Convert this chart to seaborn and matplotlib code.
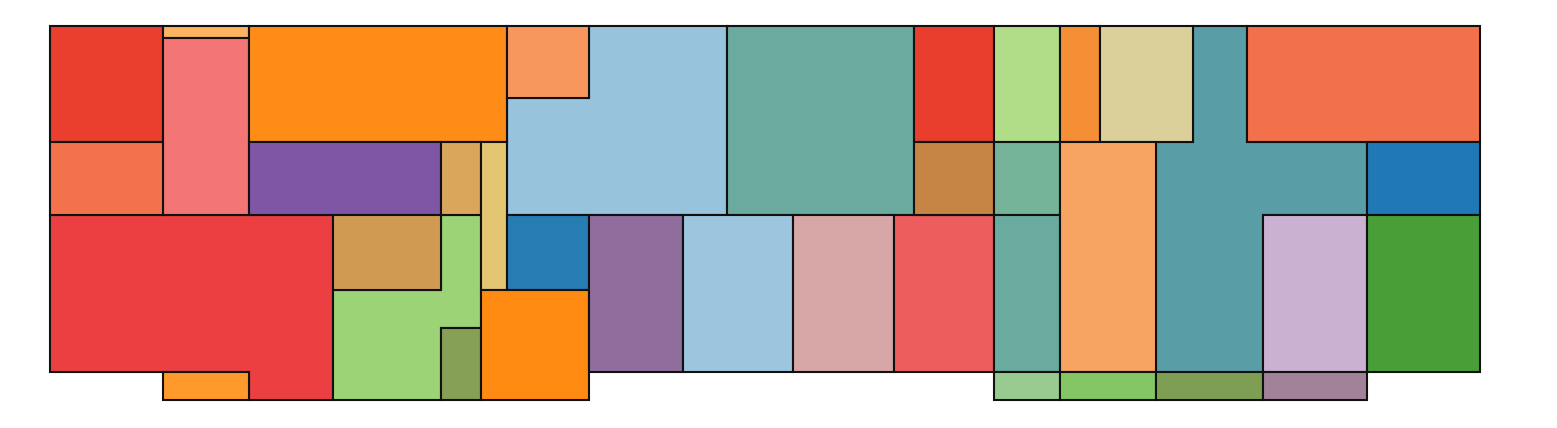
import matplotlib
matplotlib.use("Agg")
import matplotlib.pyplot as plt
import seaborn as sns

sns.set_style("white")

# Rectangular blocks: left, right, top, bottom (plan units, y grows downward)
rect_x0 = [50, 163, 163, 249, 50, 249, 441, 481, 163, 333, 441, 507, 727, 507, 481,
           589, 683, 793, 894, 914, 914, 994, 994, 994, 994, 1060, 1100, 1060, 1060,
           1247, 1367, 1263, 1367, 1156, 1263]
rect_x1 = [163, 249, 249, 507, 163, 441, 481, 507, 249, 441, 481, 589, 914, 589, 589,
           683, 793, 894, 994, 994, 994, 1060, 1060, 1060, 1060, 1100, 1193, 1156, 1156,
           1480, 1480, 1367, 1480, 1263, 1367]
rect_y0 = [26, 26, 38, 26, 142, 142, 142, 142, 372, 215, 328, 26, 26, 215, 290,
           215, 215, 215, 215, 26, 142, 26, 142, 215, 372, 26, 26, 142, 372,
           26, 142, 215, 215, 372, 372]
rect_y1 = [142, 38, 215, 142, 215, 215, 215, 290, 400, 290, 400, 98, 215, 290, 400,
           372, 372, 372, 372, 142, 215, 142, 215, 372, 400, 142, 142, 372, 400,
           142, 215, 372, 372, 400, 400]
rect_colors = ["#ea3f2e", "#fdb462", "#f47575", "#fe8c16", "#f1724b", "#7f56a6", "#d8a75b",
               "#e4c571", "#fe9a2c", "#d19a52", "#86a056", "#f8975d", "#6aaa9f", "#267cb3",
               "#fe8a12", "#8f6d9c", "#9dc5de", "#d6a7a6", "#ee5d5d", "#e93e2d", "#c68545",
               "#b1dd89", "#76b49a", "#6aab9f", "#98cb8f", "#f58f35", "#dbcf9a", "#f7a462",
               "#84c665", "#f2714b", "#2079b6", "#cab1d2", "#499e37", "#7e9f53", "#a28299"]

# Irregular (L-shaped) blocks as vertex lists
red_l_x = [50, 333, 333, 249, 249, 50]
red_l_y = [215, 215, 400, 400, 372, 372]
green_l_x = [441, 481, 481, 441, 441, 333, 333, 441]
green_l_y = [215, 215, 328, 328, 400, 400, 290, 290]
blue_l_x = [589, 727, 727, 507, 507, 589]
blue_l_y = [26, 26, 215, 215, 98, 98]
teal_t_x = [1193, 1247, 1247, 1367, 1367, 1263, 1263, 1156, 1156, 1193]
teal_t_y = [26, 26, 142, 142, 215, 215, 372, 372, 142, 142]
poly_xs = [red_l_x, green_l_x, blue_l_x, teal_t_x]
poly_ys = [red_l_y, green_l_y, blue_l_y, teal_t_y]
poly_colors = ["#ec3f42", "#9dd377", "#97c3dd", "#599ea6"]

fig = plt.figure(figsize=(15.57, 4.28), dpi=100)
ax = fig.add_axes([0, 0, 1, 1])

for px, py, c in zip(poly_xs, poly_ys, poly_colors):
    ax.fill(px, py, facecolor=c, edgecolor="#111111", linewidth=1.5)

for x0, x1, y0, y1, c in zip(rect_x0, rect_x1, rect_y0, rect_y1, rect_colors):
    ax.fill([x0, x1, x1, x0], [y0, y0, y1, y1], facecolor=c, edgecolor="#111111", linewidth=1.5)

ax.set_xlim(0, 1557)
ax.set_ylim(428, 0)
ax.axis("off")

fig.savefig("out.png", dpi=100)
